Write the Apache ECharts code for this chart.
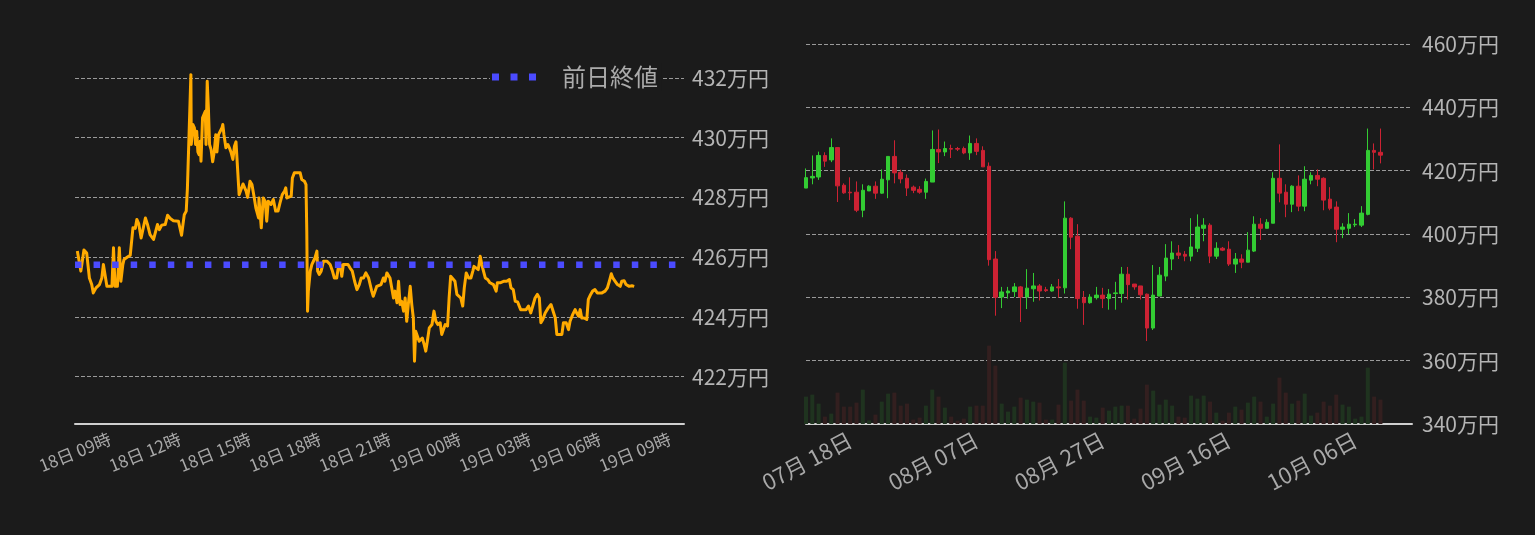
<!DOCTYPE html>
<html><head><meta charset="utf-8">
<script src="https://cdn.jsdelivr.net/npm/echarts@6/dist/echarts.min.js"></script>
<style>html,body{margin:0;padding:0;background:#1b1b1b;}#c{width:1535px;height:535px;}</style>
</head><body><div id="c"></div>
<script>
const FONT = '"Noto Sans CJK JP", "Noto Sans", sans-serif';

// ---------- intraday (minutes from day-18 00:00) ----------
const lineMinutes = [456,459,465,473,480,487,493,497,504,513,519,523,527,532,545,549,553,559,564,568,573,576,585,592,599,605,609,614,620,624,631,636,643,652,656,662,667,673,682,688,695,703,716,720,724,726,731,736,739,743,748,749,753,757,760,763,766,769,772,774,778,782,785,787,790,793,796,800,804,808,812,815,819,823,828,830,833,838,843,847,851,856,860,864,869,872,876,882,887,890,894,900,905,911,915,922,923,929,934,939,943,947,954,960,966,972,977,983,989,992,995,999,1006,1009,1014,1029,1033,1040,1044,1046,1048,1050,1055,1059,1063,1067,1072,1074,1078,1083,1089,1098,1106,1112,1117,1123,1127,1132,1136,1140,1145,1152,1157,1163,1169,1175,1181,1186,1192,1198,1205,1209,1213,1217,1222,1226,1230,1237,1243,1247,1252,1256,1260,1265,1269,1273,1278,1282,1286,1290,1295,1299,1303,1307,1312,1316,1320,1323,1326,1331,1335,1339,1343,1348,1352,1356,1361,1368,1373,1378,1383,1389,1393,1402,1408,1412,1416,1421,1427,1432,1436,1442,1447,1451,1456,1462,1468,1473,1476,1481,1487,1492,1496,1500,1505,1511,1517,1526,1533,1536,1543,1552,1560,1567,1571,1577,1582,1588,1593,1596,1610,1616,1622,1627,1633,1639,1644,1648,1653,1659,1663,1667,1674,1679,1685,1689,1702,1706,1713,1719,1723,1730,1736,1740,1745,1749,1753,1759,1766,1770,1776,1781,1787,1793,1805,1809,1813,1819,1824,1829,1833,1839,1845,1852,1856,1862,1867,1870,1875,1882,1888];
const lineValues = [426.20,426.23,425.53,426.24,426.14,425.30,425.08,424.80,424.97,425.08,425.30,425.75,425.81,425.02,425.02,426.31,425.02,425.02,426.31,425.19,425.75,425.92,426.00,426.06,426.98,426.96,427.26,427.11,426.64,426.64,427.31,427.11,426.75,426.59,426.59,427.09,426.92,427.07,427.09,427.40,427.29,427.22,427.20,427.20,426.73,426.75,427.42,427.54,428.29,428.32,432.11,429.77,430.44,430.33,429.77,430.21,429.52,429.43,429.88,429.21,430.66,430.72,430.88,429.77,431.89,431.00,429.77,429.60,429.19,429.52,430.10,429.52,430.10,430.16,430.33,430.44,430.10,429.66,429.77,429.66,429.52,429.27,429.71,429.86,429.82,428.09,428.09,428.45,428.45,428.21,428.00,428.54,428.43,427.98,427.65,427.31,427.98,426.98,427.98,427.87,427.20,427.87,427.76,427.93,427.54,427.54,427.81,428.09,428.21,428.32,427.98,427.98,428.04,428.65,428.82,428.82,428.60,428.54,428.43,426.87,424.19,424.86,425.53,425.75,425.86,425.97,426.20,425.53,425.42,425.53,425.86,425.86,425.75,425.53,425.30,425.30,425.64,425.75,425.36,425.75,425.69,425.75,425.64,425.53,425.19,424.91,425.08,425.30,425.30,425.47,425.30,425.30,424.86,424.69,424.63,425.02,424.97,425.08,425.30,425.19,425.47,425.47,425.30,425.30,424.63,424.86,424.47,425.19,424.41,424.52,424.19,424.63,423.85,424.41,425.02,424.41,423.96,422.51,423.52,423.52,423.18,423.18,423.29,423.07,422.85,423.18,423.63,423.74,424.19,423.85,423.74,423.80,423.41,423.74,423.69,424.63,425.36,425.30,425.19,424.75,424.75,424.63,424.36,424.97,425.47,425.30,425.30,425.53,425.69,425.64,425.58,426.03,425.75,425.69,425.30,425.25,425.14,425.08,424.86,425.14,425.14,425.19,425.19,425.25,424.97,424.91,424.52,424.50,424.47,424.24,424.24,424.36,424.13,424.13,424.63,424.75,424.63,423.80,423.91,424.13,424.13,424.30,424.41,424.36,423.96,423.41,423.41,423.80,423.80,423.57,423.85,424.08,424.24,424.13,424.02,424.24,423.96,423.96,423.91,424.58,424.75,424.86,424.91,424.80,424.80,424.75,424.86,424.97,425.19,425.44,425.30,425.19,425.08,425.02,425.19,425.21,425.08,425.14,425.02,425.04,425.02];
const prevClose = 425.74;
const prevCloseName = '前日終値';
const lineAxisStartMinute = 450;   // 18日 07:30
const lineAxisEndMinute = 2016;    // 19日 09:36
const hourStep = 3;                // time-label step (hours)
const lineYMin = 420.41, lineYMax = 432.6;

// ---------- daily ----------
const candleDates = ['07-11','07-12','07-13','07-14','07-15','07-16','07-17','07-18','07-19','07-20','07-21','07-22','07-23','07-24','07-25','07-26','07-27','07-28','07-29','07-30','07-31',
'08-01','08-02','08-03','08-04','08-05','08-06','08-07','08-08','08-09','08-10','08-11','08-12','08-13','08-14','08-15','08-16','08-17','08-18','08-19','08-20','08-21','08-22','08-23','08-24','08-25','08-26','08-27','08-28','08-29','08-30','08-31',
'09-01','09-02','09-03','09-04','09-05','09-06','09-07','09-08','09-09','09-10','09-11','09-12','09-13','09-14','09-15','09-16','09-17','09-18','09-19','09-20','09-21','09-22','09-23','09-24','09-25','09-26','09-27','09-28','09-29','09-30',
'10-01','10-02','10-03','10-04','10-05','10-06','10-07','10-08','10-09','10-10','10-11','10-12','10-13','10-14'];
const dateAxisEnd = 95.7;          // category-index extent of the date axis
const candleOpen  = [414.5,417.7,418.0,424.8,423.4,427.3,415.4,413.2,413.2,407.5,413.6,415.1,412.9,417.1,424.5,419.5,417.6,414.8,414.1,413.2,416.4,426.7,425.9,427.0,427.0,427.0,425.6,428.6,426.4,421.4,392.1,380.1,381.4,381.8,383.3,380.1,382.7,383.6,382.4,382.0,383.3,383.0,405.0,399.3,379.9,378.3,379.9,380.7,379.6,381.2,381.2,387.3,384.2,383.6,381.0,370.3,380.4,386.7,392.1,394.0,393.6,393.0,395.5,401.8,402.8,393.0,395.5,395.2,390.5,392.1,391.1,394.6,403.1,401.8,403.4,417.6,413.2,409.4,415.1,408.8,417.0,418.5,417.6,411.0,408.5,401.5,401.8,402.9,402.8,406.2,426.4,425.8];
const candleClose = [417.8,418.2,424.8,423.0,427.3,415.2,413.0,413.0,407.5,413.8,415.1,412.9,417.3,424.5,419.3,417.4,414.5,413.8,413.2,416.6,426.7,425.9,427.0,426.8,426.8,425.6,428.6,426.1,421.2,391.9,380.0,381.7,382.0,383.3,380.1,382.9,383.6,382.0,382.1,383.3,383.0,405.0,399.0,379.6,378.3,380.1,380.7,379.6,381.0,381.4,387.3,384.0,383.3,380.8,370.3,380.7,387.0,392.4,394.0,393.3,393.0,395.9,402.2,402.8,393.0,395.5,394.9,390.5,392.1,391.1,394.9,403.1,401.8,403.7,417.6,412.9,409.4,415.1,408.8,417.3,418.5,417.3,410.7,408.1,401.5,402.2,403.1,403.1,406.6,426.4,425.8,424.9];
const candleLow   = [414.5,415.7,417.1,421.2,422.7,410.1,412.7,410.7,406.9,405.3,413.6,411.1,412.7,411.3,416.0,416.0,412.0,412.9,412.7,411.1,416.4,422.4,424.6,424.0,426.2,425.2,423.4,424.9,421.2,390.0,374.2,376.6,379.6,380.1,372.2,376.3,378.6,379.0,381.7,381.8,379.9,381.2,395.2,376.4,371.3,378.0,379.3,376.6,376.1,376.1,378.3,379.3,382.4,379.3,366.2,369.7,380.4,385.1,388.6,392.1,391.4,391.4,394.3,397.7,390.8,392.1,394.6,389.9,387.7,389.2,391.1,394.3,398.1,401.8,403.4,410.0,405.3,406.9,407.2,407.2,415.7,415.1,407.5,407.5,397.4,398.7,399.9,402.2,402.2,405.9,420.4,422.3];
const candleHigh  = [420.7,424.8,426.0,425.8,430.2,427.3,416.0,417.9,416.6,415.7,415.4,416.6,420.4,424.5,429.6,420.3,418.8,415.3,415.1,417.5,432.7,433.0,429.2,428.2,427.5,427.6,431.1,430.2,427.7,422.6,394.6,383.3,383.3,384.5,383.6,388.9,387.7,384.2,383.3,384.2,385.8,410.3,405.3,403.1,382.0,381.0,383.3,383.0,382.6,384.9,389.6,389.6,384.2,383.6,381.2,390.2,389.6,396.8,397.7,396.5,394.6,405.0,406.2,405.0,403.4,397.4,395.9,397.7,394.0,393.6,400.6,405.6,405.0,404.7,419.5,428.3,415.7,415.4,418.5,421.4,419.5,420.4,417.9,414.8,410.3,403.4,406.6,404.7,408.8,433.3,428.6,433.3];
const volumes     = [82,88,61,22,31,94,52,52,64,103,11,28,67,91,94,55,61,13,19,55,103,82,49,22,10,16,52,55,55,235,175,61,37,52,79,73,67,64,13,13,58,184,70,103,70,22,19,49,40,52,55,55,16,46,118,100,58,73,55,22,19,85,76,85,67,34,10,34,52,43,64,82,67,22,61,139,94,61,70,91,25,34,67,55,88,58,52,16,22,169,82,73];
const volumeAxisMax = 1140;
const priceMin = 340, priceMax = 460, priceStep = 20;

// ---------- build ----------
const BG = '#1b1b1b';
const UP = '#33cc33', DOWN = '#cc2233';
const UP_VOL = '#1f331f', DOWN_VOL = '#331f1f';
const hrs = m => m / 60;                       // minutes -> hours since day-18 00:00
const lineData = lineMinutes.map((m, i) => [hrs(m), lineValues[i]]);
const candleData = candleOpen.map((o, i) => [o, candleClose[i], candleLow[i], candleHigh[i]]);
const volData = volumes.map((v, i) => ({
  value: v,
  itemStyle: { color: candleClose[i] >= candleOpen[i] ? UP_VOL : DOWN_VOL }
}));
const pad2 = n => (n < 10 ? '0' : '') + n;
const isStep = v => Math.abs(v / hourStep - Math.round(v / hourStep)) < 1e-6;

const chart = echarts.init(document.getElementById('c'), null, { renderer: 'canvas' });
chart.setOption({
  backgroundColor: BG,
  animation: false,
  textStyle: { fontFamily: FONT },
  legend: {
    data: [{ name: prevCloseName, icon: 'path://M0,0h7v7h-7zM18.5,0h7v7h-7zM37,0h7v7h-7z' }],
    left: 490, top: 63, padding: [2, 4, 2, 2],
    backgroundColor: BG,
    itemWidth: 44, itemHeight: 7, itemGap: 0,
    textStyle: { color: '#ababab', fontSize: 24, fontFamily: FONT, padding: [0, 0, 0, 21] }
  },
  grid: [
    { left: 75, right: 851, top: 60, bottom: 111 },
    { left: 806, right: 123, top: 44, bottom: 111 }
  ],
  xAxis: [
    {
      type: 'value', gridIndex: 0,
      min: hrs(lineAxisStartMinute), max: hrs(lineAxisEndMinute),
      splitNumber: 9, minInterval: hourStep, maxInterval: hourStep,
      axisLine: { lineStyle: { color: '#cfcfcf', width: 2 } },
      axisTick: { show: false }, splitLine: { show: false },
      axisLabel: {
        rotate: 22, color: '#a8a8a8', fontSize: 17, fontFamily: FONT, margin: 14,
        showMinLabel: false, showMaxLabel: false, hideOverlap: false,
        formatter: v => {
          if (!isStep(v)) return '';
          const h = Math.round(v);
          return pad2(18 + Math.floor(h / 24)) + '日 ' + pad2(h % 24) + '時';
        }
      }
    },
    {
      type: 'category', gridIndex: 1, data: candleDates, boundaryGap: false,
      min: 0, max: dateAxisEnd,
      axisLine: { lineStyle: { color: '#cfcfcf', width: 2 } },
      axisTick: { show: false }, splitLine: { show: false },
      axisLabel: {
        rotate: 28, color: '#a8a8a8', fontSize: 22, fontFamily: FONT, margin: 14,
        interval: (idx) => (idx - 7) % 20 === 0,
        formatter: v => v.slice(0, 2) + '月 ' + v.slice(3) + '日'
      }
    }
  ],
  yAxis: [
    {
      type: 'value', gridIndex: 0, position: 'right',
      min: lineYMin, max: lineYMax, minInterval: 2, maxInterval: 2,
      axisLine: { show: false }, axisTick: { show: false },
      splitLine: { show: true, showMinLine: false, showMaxLine: false, lineStyle: { color: '#9a9a9a', type: [4, 2], width: 1 } },
      axisLabel: {
        color: '#b4b4b4', fontSize: 21, fontFamily: FONT, margin: 8,
        showMinLabel: false, showMaxLabel: false,
        formatter: v => Math.abs(v / 2 - Math.round(v / 2)) < 1e-6 ? Math.round(v) + '万円' : ''
      }
    },
    {
      type: 'value', gridIndex: 1, position: 'right',
      min: priceMin, max: priceMax, interval: priceStep,
      axisLine: { show: false }, axisTick: { show: false },
      splitLine: { show: true, lineStyle: { color: '#9a9a9a', type: [4, 2], width: 1 } },
      axisLabel: { color: '#b4b4b4', fontSize: 21, fontFamily: FONT, margin: 10, formatter: v => v + '万円' }
    },
    { type: 'value', gridIndex: 1, min: 0, max: volumeAxisMax, show: false, splitLine: { show: false } }
  ],
  series: [
    {
      name: 'price', type: 'line', xAxisIndex: 0, yAxisIndex: 0, data: lineData,
      symbol: 'none', showSymbol: false,
      lineStyle: { color: '#ffaa00', width: 3, join: 'round' }, z: 3
    },
    {
      name: prevCloseName, type: 'line', xAxisIndex: 0, yAxisIndex: 0,
      data: [[hrs(lineAxisStartMinute), prevClose], [hrs(lineAxisEndMinute), prevClose]],
      symbol: 'none', color: '#4b4bff',
      lineStyle: { color: '#4b4bff', width: 6.5, type: [6.5, 12.06], cap: 'butt' }, z: 4
    },
    {
      name: 'volume', type: 'bar', xAxisIndex: 1, yAxisIndex: 2, data: volData,
      barWidth: 4, z: 1
    },
    {
      name: 'daily', type: 'candlestick', xAxisIndex: 1, yAxisIndex: 1, data: candleData,
      barWidth: 4,
      itemStyle: { color: UP, color0: DOWN, borderColor: UP, borderColor0: DOWN, borderWidth: 1 }, z: 2
    }
  ]
});
</script></body></html>
